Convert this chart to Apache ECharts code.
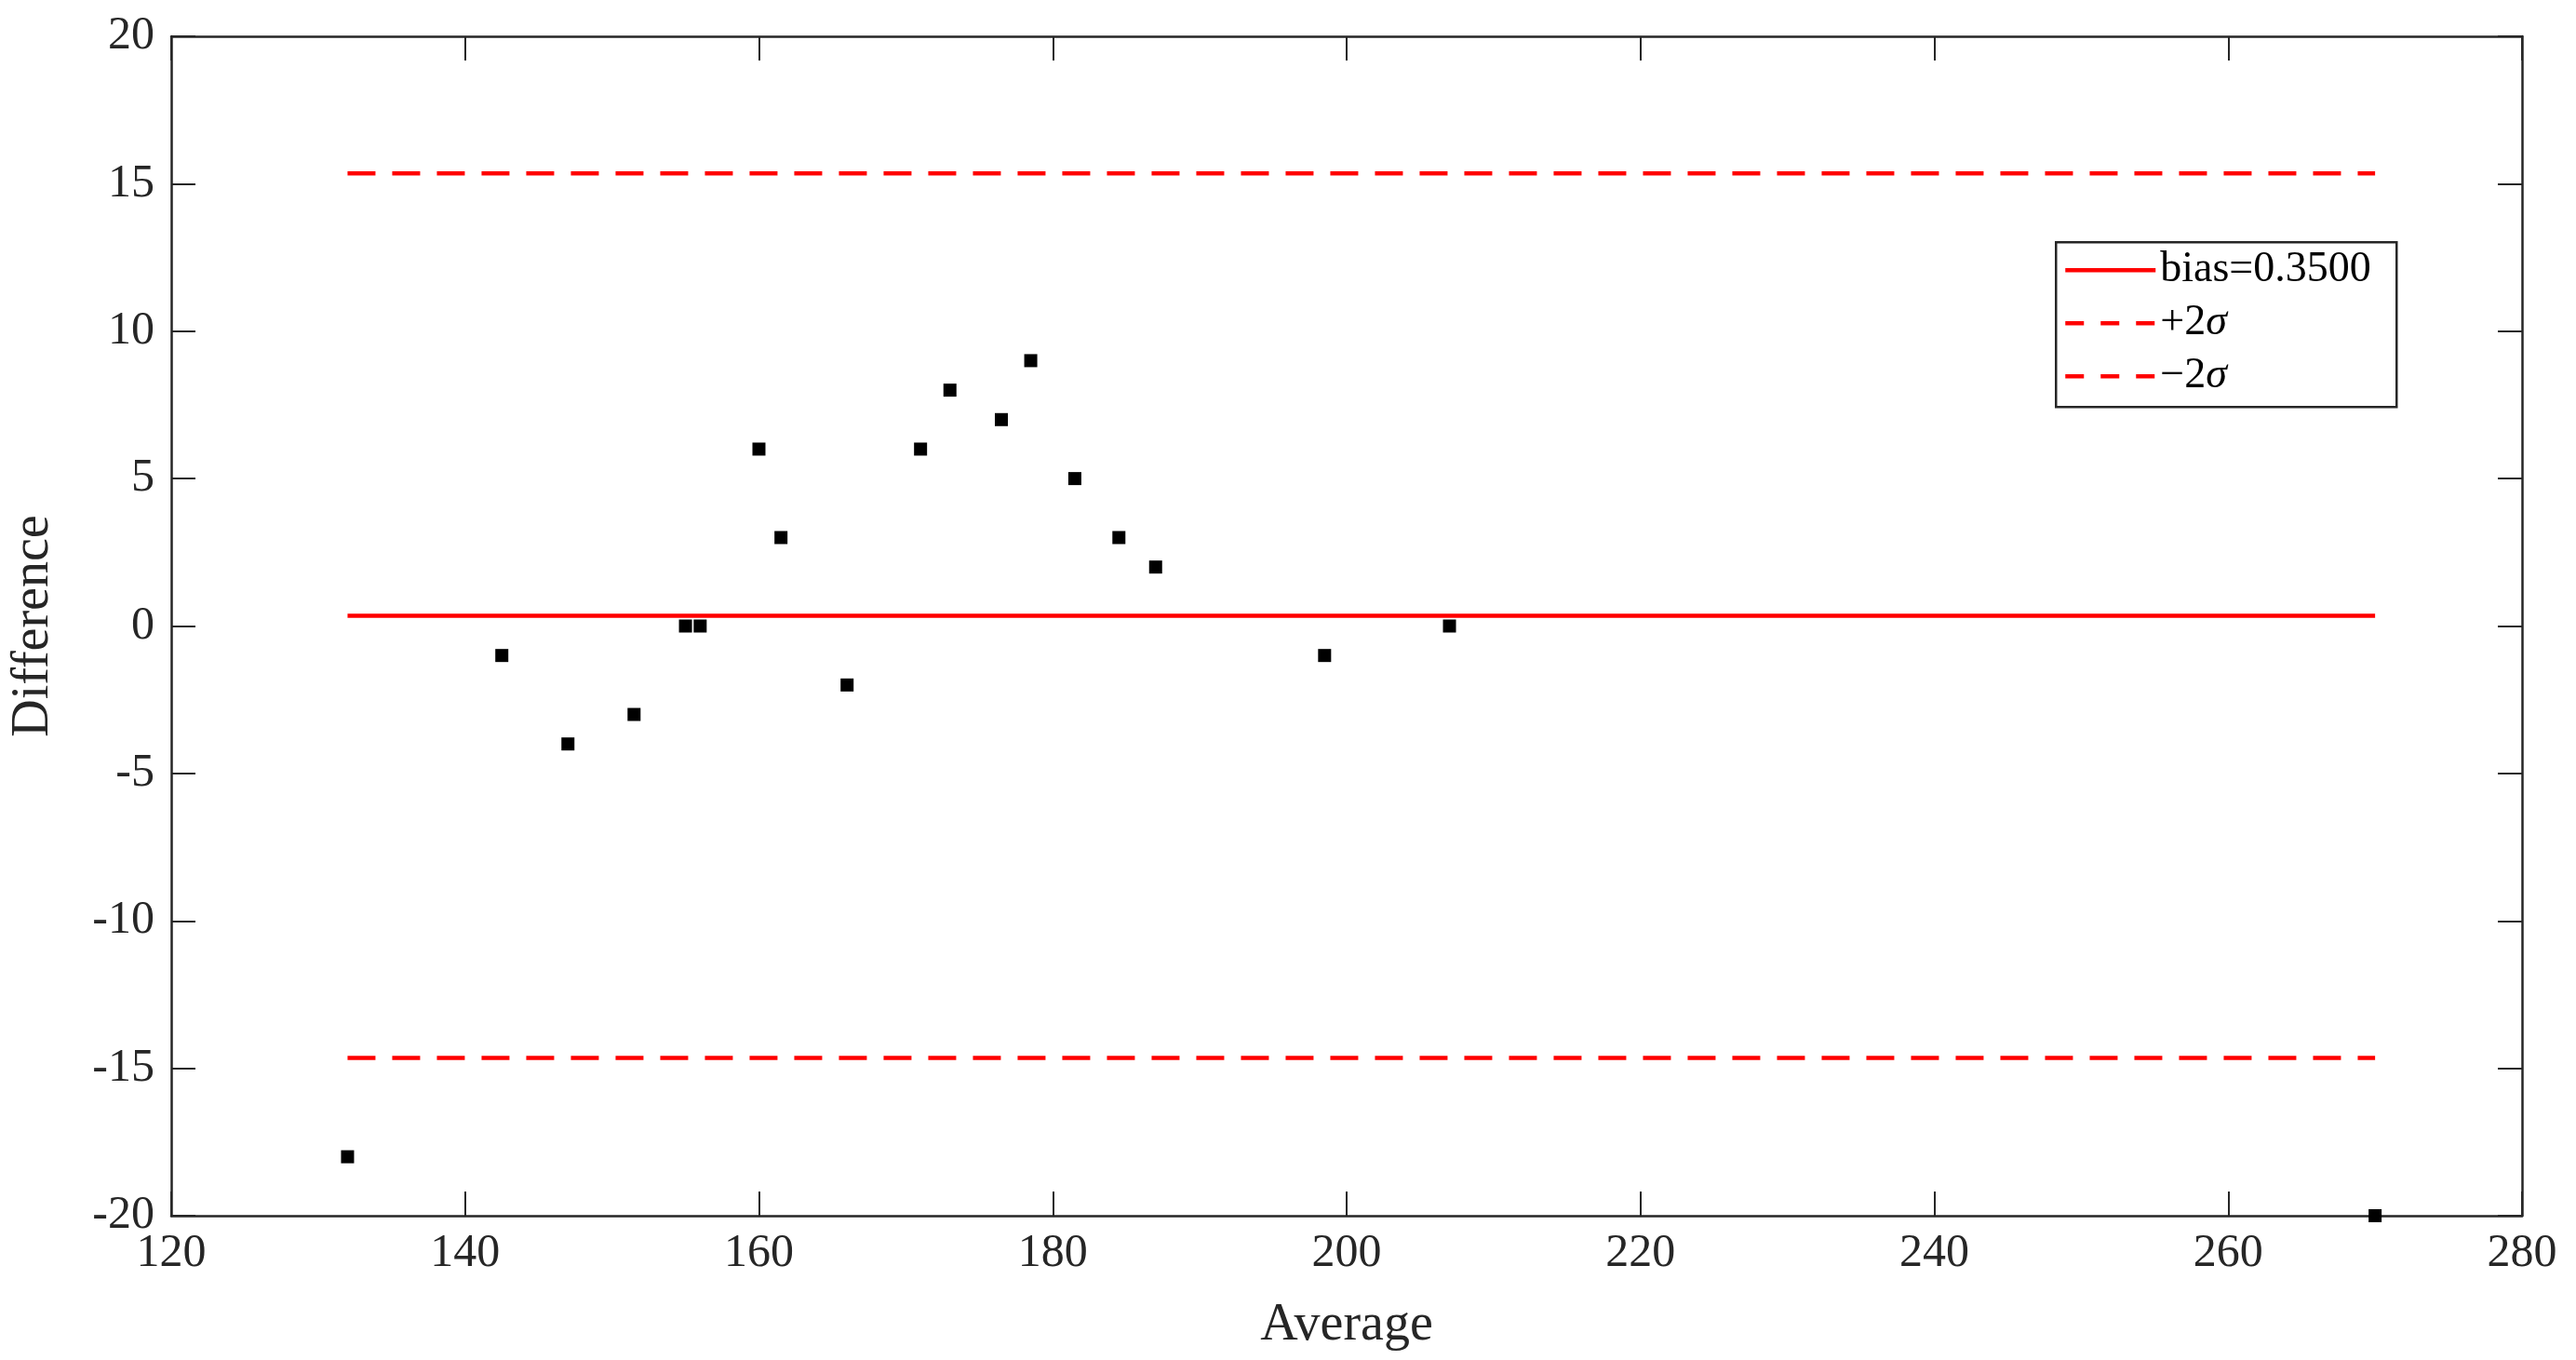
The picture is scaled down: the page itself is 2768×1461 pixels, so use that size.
<!DOCTYPE html>
<html>
<head>
<meta charset="utf-8">
<script src="https://cdn.jsdelivr.net/npm/echarts@6/dist/echarts.min.js"></script>
<style>html,body{margin:0;background:#fff}#c{width:2768px;height:1461px}</style>
</head>
<body>
<div id="c"></div>
<script>
// Bland-Altman data
const avg  = [132, 142.5, 147, 151.5, 155, 156, 160, 161.5, 166, 171, 173, 176.5, 178.5, 181.5, 184.5, 187, 198.5, 207, 270];
const diff = [-18, -1, -4, -3, 0, 0, 6, 3, -2, 6, 8, 7, 9, 5, 3, 2, -1, 0, -20];
const bias = 0.35;
const upper = 15.35;
const lower = -14.65;
const lineX = [132, 270];

const font = 'Liberation Serif';
const chart = echarts.init(document.getElementById('c'));

const axisCommon = {
  type: 'value', splitLine: {show: false},
  axisLine: {show: true, onZero: false, lineStyle: {color: '#262626', width: 2.5}},
  axisTick: {inside: true, length: 26, lineStyle: {color: '#262626', width: 2}},
};
const tickOnly = Object.assign({}, axisCommon, {axisLabel: {show: false}});

function hline(y, dashed) {
  return {
    type: 'line', data: lineX.map(x => [x, y]), symbol: 'none', silent: true,
    lineStyle: {color: '#ff0000', width: 4.5, type: dashed ? [30, 18] : 'solid'}
  };
}

chart.setOption({
  animation: false,
  grid: {left: 174, top: 39, width: 2536, height: 1267},
  xAxis: [
    Object.assign({}, axisCommon, {min: 120, max: 280, interval: 20, position: 'bottom',
      name: 'Average', nameLocation: 'middle', nameGap: 90,
      nameTextStyle: {fontFamily: font, fontSize: 56, color: '#262626'},
      axisLabel: {fontFamily: font, fontSize: 50, color: '#262626', margin: 16}}),
    Object.assign({}, tickOnly, {min: 120, max: 280, interval: 20, position: 'top'})
  ],
  yAxis: [
    Object.assign({}, axisCommon, {min: -20, max: 20, interval: 5, position: 'left',
      name: 'Difference', nameLocation: 'middle', nameGap: 120,
      nameTextStyle: {fontFamily: font, fontSize: 56, color: '#262626'},
      axisLabel: {fontFamily: font, fontSize: 50, color: '#262626', margin: 18}}),
    Object.assign({}, tickOnly, {min: -20, max: 20, interval: 5, position: 'right'})
  ],
  series: [
    hline(bias, false),
    hline(upper, true),
    hline(lower, true),
    {type: 'scatter', data: avg.map((a, i) => [a, diff[i]]), symbol: 'rect', symbolSize: 14,
     itemStyle: {color: '#000', opacity: 1}, z: 5}
  ],
  graphic: [{
    type: 'group', left: 2208, top: 259,
    children: [
      {type: 'rect', shape: {x: 0, y: 0, width: 366, height: 177}, style: {fill: '#fff', stroke: '#262626', lineWidth: 2.5}},
      {type: 'line', shape: {x1: 10, y1: 30, x2: 107, y2: 30}, style: {stroke: '#ff0000', lineWidth: 4.5}},
      {type: 'line', shape: {x1: 10, y1: 87, x2: 107, y2: 87}, style: {stroke: '#ff0000', lineWidth: 4.5, lineDash: [20, 18]}},
      {type: 'line', shape: {x1: 10, y1: 144, x2: 107, y2: 144}, style: {stroke: '#ff0000', lineWidth: 4.5, lineDash: [20, 18]}},
      {type: 'text', x: 112, y: 30, style: {text: 'bias=0.3500', font: '46px ' + font, fill: '#000', verticalAlign: 'middle'}},
      {type: 'text', x: 112, y: 87, style: {text: '+2{s|σ}', font: '46px ' + font, fill: '#000', verticalAlign: 'middle',
        rich: {s: {fontStyle: 'italic', fontFamily: font, fontSize: 46}}}},
      {type: 'text', x: 112, y: 144, style: {text: '−2{s|σ}', font: '46px ' + font, fill: '#000', verticalAlign: 'middle',
        rich: {s: {fontStyle: 'italic', fontFamily: font, fontSize: 46}}}}
    ]
  }]
});
</script>
</body>
</html>
